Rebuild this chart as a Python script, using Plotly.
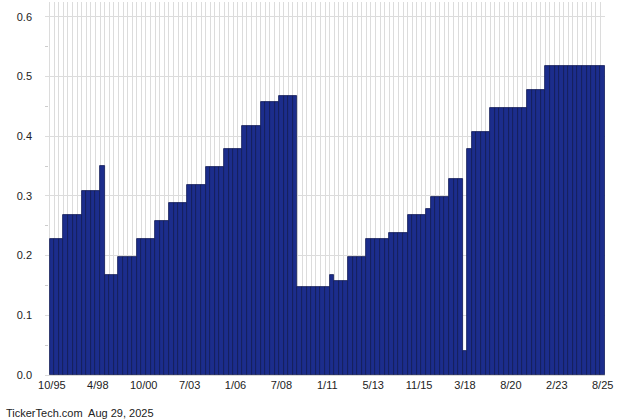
import plotly.graph_objects as go

# Dividend amounts, one per payment (oldest first)
dividends = [
    0.228, 0.228, 0.228,
    0.268, 0.268, 0.268, 0.268,
    0.308, 0.308, 0.308, 0.308,
    0.350,
    0.168, 0.168, 0.168,
    0.198, 0.198, 0.198, 0.198,
    0.228, 0.228, 0.228, 0.228,
    0.258, 0.258, 0.258,
    0.288, 0.288, 0.288, 0.288,
    0.318, 0.318, 0.318, 0.318,
    0.348, 0.348, 0.348, 0.348,
    0.378, 0.378, 0.378, 0.378,
    0.418, 0.418, 0.418, 0.418,
    0.458, 0.458, 0.458, 0.458,
    0.468, 0.468, 0.468, 0.468,
    0.148, 0.148, 0.148, 0.148, 0.148, 0.148, 0.148,
    0.168,
    0.158, 0.158, 0.158,
    0.198, 0.198, 0.198, 0.198,
    0.228, 0.228, 0.228, 0.228, 0.228,
    0.238, 0.238, 0.238, 0.238,
    0.268, 0.268, 0.268, 0.268,
    0.278,
    0.298, 0.298, 0.298, 0.298,
    0.328, 0.328, 0.328,
    0.040,
    0.378,
    0.408, 0.408, 0.408, 0.408,
    0.448, 0.448, 0.448, 0.448, 0.448, 0.448, 0.448, 0.448,
    0.478, 0.478, 0.478, 0.478,
    0.518, 0.518, 0.518, 0.518, 0.518, 0.518, 0.518, 0.518, 0.518, 0.518, 0.518, 0.518, 0.518,
]

tick_positions = [0, 10, 20, 30, 40, 50, 60, 70, 80, 90, 100, 110, 120]
tick_labels = ["10/95", "4/98", "10/00", "7/03", "1/06", "7/08", "1/11",
               "5/13", "11/15", "3/18", "8/20", "2/23", "8/25"]

y_ticks = [0.0, 0.1, 0.2, 0.3, 0.4, 0.5, 0.6]

x_idx = list(range(len(dividends)))

fig = go.Figure(
    go.Bar(
        x=x_idx,
        y=dividends,
        width=1,
        marker=dict(color="#1c2d8c", line=dict(color="#111b55", width=0.8)),
        hoverinfo="y",
    )
)

font = dict(family="Liberation Sans, Arial, sans-serif", size=11, color="#222222")

fig.update_layout(
    width=640,
    height=420,
    margin=dict(l=45, r=35, t=2, b=45),
    paper_bgcolor="white",
    plot_bgcolor="white",
    bargap=0,
    showlegend=False,
    font=font,
    xaxis=dict(
        range=[-1.5, len(dividends) - 0.5],
        tickmode="array",
        tickvals=tick_positions,
        ticktext=tick_labels,
        showgrid=False,
        ticks="",
        ticklabelstandoff=0,
        showline=True,
        linecolor="#d8d8d8",
        linewidth=1,
        zeroline=False,
        minor=dict(tick0=0.5, dtick=1, showgrid=True, gridcolor="#dcdcdc", gridwidth=1, ticks=""),
        tickfont=font,
    ),
    yaxis=dict(
        range=[0, 0.625],
        tickmode="array",
        tickvals=y_ticks,
        ticktext=[f"{v:.1f}" for v in y_ticks],
        showgrid=True,
        gridcolor="#dcdcdc",
        gridwidth=1,
        zeroline=False,
        ticks="",
        ticklabelstandoff=12,
        minor=dict(tick0=0.05, dtick=0.1, ticks="inside", ticklen=3, tickcolor="#cccccc", showgrid=False),
        tickfont=font,
    ),
    annotations=[
        dict(
            text="TickerTech.com  Aug 29, 2025",
            xref="paper", yref="paper",
            x=0, y=0,
            xanchor="left", yanchor="middle",
            xshift=-41, yshift=-38,
            showarrow=False,
            font=dict(family="Liberation Sans, Arial, sans-serif", size=11, color="#222222"),
        )
    ],
)

fig.write_html(
    "out.html",
    config={"displayModeBar": False},
    post_script="document.body.style.margin='0';document.body.style.overflow='hidden';",
)
